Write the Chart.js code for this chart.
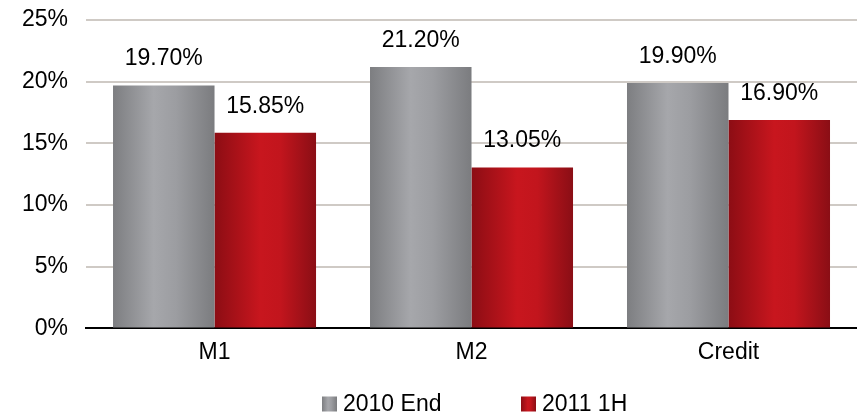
<!DOCTYPE html>
<html>
<head>
<meta charset="utf-8">
<script src="https://cdn.jsdelivr.net/npm/chart.js@4"></script>
<style>
html,body{margin:0;padding:0;background:#fff;}
canvas{display:block;}
</style>
</head>
<body>
<canvas id="c" width="857" height="415"></canvas>
<script>
const categories = ['M1', 'M2', 'Credit'];
const seriesNames = ['2010 End', '2011 1H'];
const values2010End = [19.70, 21.20, 19.90];
const values2011H1 = [15.85, 13.05, 16.90];
const yTicks = [0, 5, 10, 15, 20, 25];

const FONT = '"Liberation Sans", Arial, sans-serif';
const FS = 23;
const CAT_PCT = 0.79;

const gradStops = [
  [[0, '#7d7e81'], [0.4, '#a6a7ab'], [0.62, '#9c9da1'], [1, '#7b7c7f']],
  [[0, '#8c0d14'], [0.45, '#c8161e'], [0.65, '#c2151d'], [1, '#8a0e15']]
];
const flatColors = ['#939498', '#b3131b'];

function barGradient(ctx) {
  const chart = ctx.chart;
  const xs = chart.scales && chart.scales.x;
  if (!chart.chartArea || !xs || ctx.dataIndex === undefined) return flatColors[ctx.datasetIndex];
  const center = xs.getPixelForValue(ctx.dataIndex);
  const catW = xs.width / categories.length;
  const barW = catW * CAT_PCT / 2;
  const left = ctx.datasetIndex === 0 ? center - barW : center;
  const g = chart.ctx.createLinearGradient(left, 0, left + barW, 0);
  gradStops[ctx.datasetIndex].forEach(s => g.addColorStop(s[0], s[1]));
  return g;
}

const valueLabels = {
  id: 'valueLabels',
  afterDatasetsDraw(chart) {
    const c = chart.ctx;
    c.save();
    c.font = FS + 'px ' + FONT;
    c.fillStyle = '#000';
    c.textAlign = 'center';
    c.textBaseline = 'alphabetic';
    chart.data.datasets.forEach((ds, di) => {
      chart.getDatasetMeta(di).data.forEach((el, i) => {
        c.fillText(ds.data[i].toFixed(2) + '%', el.x, el.y - 20);
      });
    });
    c.restore();
  }
};

const customLegend = {
  id: 'customLegend',
  afterDraw(chart) {
    const c = chart.ctx;
    const items = [{x: 322}, {x: 521}];
    const cy = 404;
    c.save();
    c.font = FS + 'px ' + FONT;
    c.textBaseline = 'middle';
    c.textAlign = 'left';
    chart.data.datasets.forEach((ds, di) => {
      const bx = items[di].x;
      const g = c.createLinearGradient(bx, 0, bx + 15, 0);
      gradStops[di].forEach(s => g.addColorStop(s[0], s[1]));
      c.fillStyle = g;
      c.fillRect(bx, cy - 7.5, 15, 15);
      c.fillStyle = '#000';
      c.fillText(ds.label, bx + 21, cy + 1);
    });
    c.restore();
  }
};

new Chart(document.getElementById('c'), {
  type: 'bar',
  data: {
    labels: categories,
    datasets: [
      { label: seriesNames[0], data: values2010End, backgroundColor: barGradient, borderWidth: 0 },
      { label: seriesNames[1], data: values2011H1, backgroundColor: barGradient, borderWidth: 0 }
    ]
  },
  options: {
    responsive: false,
    animation: false,
    layout: { padding: { left: 22, right: 0, top: 20, bottom: 39 } },
    datasets: { bar: { categoryPercentage: CAT_PCT, barPercentage: 1 } },
    plugins: { legend: { display: false }, tooltip: { enabled: false } },
    scales: {
      x: {
        grid: { display: false, drawTicks: false },
        border: { display: true, color: '#000', width: 2 },
        ticks: { color: '#000', font: { family: FONT, size: FS }, padding: 10 }
      },
      y: {
        min: 0, max: 25,
        afterBuildTicks(scale) { scale.ticks = yTicks.map(v => ({ value: v })); },
        grid: { color: (ctx) => ctx.tick && ctx.tick.value === 0 ? 'rgba(0,0,0,0)' : '#cfcac5', lineWidth: 2, drawTicks: true, tickLength: 18, tickColor: 'rgba(0,0,0,0)' },
        border: { display: false },
        ticks: { color: '#000', font: { family: FONT, size: FS }, padding: 0, callback: v => v + '%' }
      }
    }
  },
  plugins: [valueLabels, customLegend]
});
</script>
</body>
</html>
